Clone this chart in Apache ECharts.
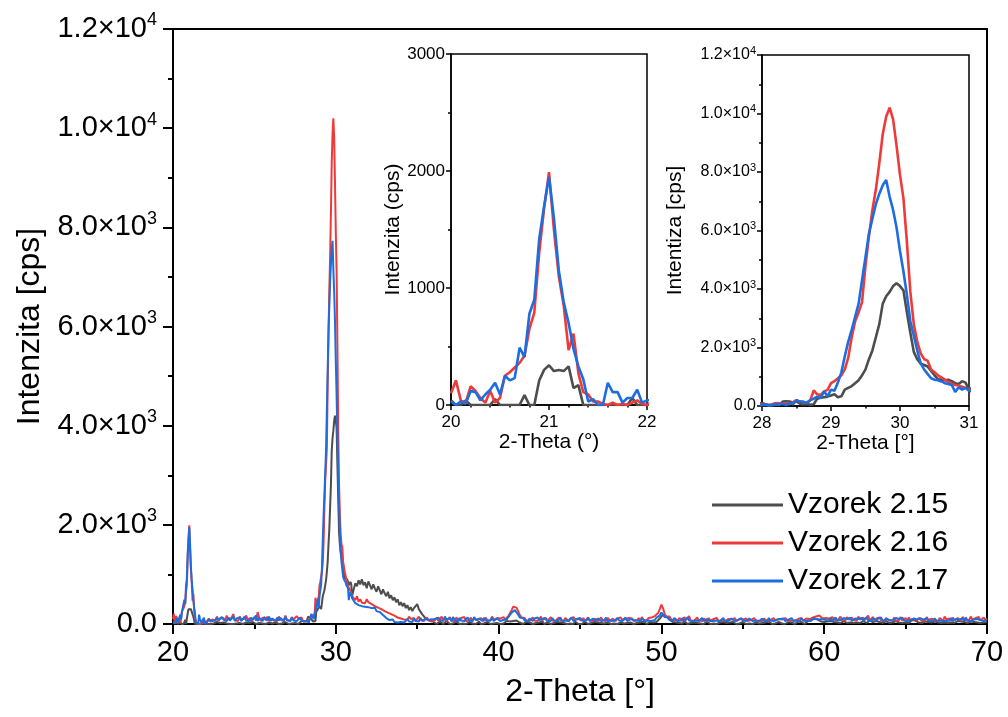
<!DOCTYPE html>
<html><head><meta charset="utf-8">
<script src="https://cdn.jsdelivr.net/npm/echarts@6/dist/echarts.min.js"></script>
<style>html,body{margin:0;padding:0;background:#fff}#c{width:1008px;height:717px}</style>
</head><body><div id="c"></div>
<script>
// ---------- data ----------
const seriesNames = ['Vzorek 2.15', 'Vzorek 2.16', 'Vzorek 2.17'];
const seriesColors = ['#4d4d4d', '#ef3a3a', '#1c6de0'];

// scan segments: start angle and step (2-Theta, deg)
const segStart = [20.0, 22.1, 28.0, 31.1, 36.1];
const segStep = [0.05, 0.1, 0.05, 0.1, 0.1];

// Vzorek 2.15 (gray)
const gray1 = [40,0,0,40,0,0,0,0,0,50, 0,0,0,0,0,85,0,0,210,300, 340,290,300,290,330,145,170,0,0,0, 0,0,0,0,0,0,0,60,0,0, 0];
const gray2 = [0,20,0,30,10,0,40,0,20,0, 30,0,10,40,0,20,0,30,10,0, 20,40,0,10,30,0,20,0,40,10, 0,30,20,0,10,40,0,20,30,0, 10,0,30,50,0,20,10,0,40,20, 0,30,10,0,20,40,0,30,60];
const gray3 = [100,60,30,20,50,40,150,160,150,120, 160,80,50,70,40,60,250,280,300,320, 360,400,300,330,560,620,680,780,880,1050, 1250,1600,1900,2350,2800,3500,3750,3900,4100,4200, 4100,3950,3200,2500,1850,1600,1450,1400,1350,1200, 1050,920,900,880,900,850,780,750,850,800, 560];
const gray4 = [700,820,760,880,800,900,780,840,720,860, 780,700,800,720,650,760,680,600,700,620, 560,650,520,580,480,540,440,500,380,440, 360,420,320,380,280,340,260,320,360,400, 300,250,200,180,120,150,80,60,90,40];
const gray5 = [
  30,0,20,50,10,0,40,60,20,0, 30,10,0,50,20,0,40,10,30,0, 20,40,0,10,30,0,20,50,0,30, 10,0,40,20,0,30,10,0,20,40,
  0,30,10,40,60,30,50,80,60,40, 70,50,30,10,0,20,40,0,30,10, 0,40,20,0,30,10,50,0,20,30, 10,0,30,20,0,40,10,30,0,20,
  40,0,20,10,30,0,50,20,0,30, 0,20,40,10,0,30,20,0,40,10, 30,0,20,40,10,0,30,50,0,20, 10,40,0,20,30,0,10,40,20,0,
  30,10,0,40,20,0,30,10,50,20, 0,30,40,10,30,60,40,80,110,150, 190,210,160,120,90,60,40,70,30,50, 20,40,10,60,30,0,40,20,10,30,
  0,20,40,10,30,0,20,50,10,0, 30,10,40,0,20,30,0,40,10,20, 0,30,10,40,20,0,30,10,0,40, 20,0,30,10,40,0,20,30,0,10,
  40,20,0,30,10,50,20,0,30,10, 0,40,20,10,30,0,20,40,10,30, 20,0,30,50,10,40,20,0,30,60, 40,80,70,110,130,90,60,50,30,40,
  20,50,30,60,20,40,70,30,50,20, 40,60,30,20,50,30,60,20,40,30, 50,20,40,60,30,20,50,70,30,40, 20,60,30,40,50,20,30,60,40,20,
  50,30,20,60,40,30,50,20,60,30, 40,20,50,80,110,70,40,30,60,20, 30,50,20,40,60,30,20,50,40,30, 50,20,40,30,60,20,50,30,40,20,
  30,60,20,50,30,40,60,20,30,50, 20,40,60,30,50,20,40,30,60,40];

// Vzorek 2.16 (red)
const red1 = [100,210,40,20,160,120,60,20,120,20, 60,250,280,320,360,420,650,790,1300,1680, 1990,1500,1100,850,470,610,270,110,90,30, 30,10,0,20,0,10,0,20,40,10, 0];
const red2 = [60,110,40,90,130,70,150,60,110,80, 120,60,170,90,60,130,200,80,120,60, 150,90,50,110,170,70,120,60,90,140, 70,240,110,60,130,90,80,150,60,110, 130,70,100,60,150,90,120,60,170,80, 110,60,140,90,70,160,110,80,130];
const red3 = [50,40,30,60,100,90,70,100,60,130, 200,150,130,120,200,530,400,380,500,550, 780,850,950,1050,1250,1650,2350,2900,3200,3550, 4800,5800,6700,7400,8300,9300,9900,10200,9800,8900, 7900,7100,5600,3900,2800,2200,1800,1600,1550,1250, 1150,1050,980,900,820,760,720,700,660,620, 560];
const red4 = [540,480,560,450,500,430,470,420,500,440, 480,400,430,360,400,330,360,300,330,260, 280,230,250,200,220,170,190,130,160,110, 140,90,120,80,150,100,70,120,60,100, 150,80,110,60,90,130,70,100,50,80];
const red5 = [
  80,130,60,100,150,70,120,60,90,140, 70,110,50,130,90,60,120,80,140,60, 100,70,130,60,110,150,80,60,120,90, 60,130,80,110,70,150,90,60,120,80,
  110,70,140,90,130,160,220,280,350,390, 330,260,180,130,90,120,70,110,60,100, 130,70,110,60,90,150,70,120,80,60, 100,140,70,110,60,90,130,70,100,60,
  120,80,60,110,70,140,90,60,100,80, 70,120,60,90,130,70,100,60,110,80, 60,100,130,70,90,60,120,80,60,110, 90,60,110,70,130,80,60,100,70,120,
  80,110,60,90,70,120,60,140,80,100, 70,120,90,130,110,160,150,220,300,390, 320,200,140,110,150,90,130,80,110,70, 120,90,60,140,80,110,160,70,100,60,
  90,130,70,100,60,110,80,60,120,70, 60,100,80,120,60,90,70,110,60,80, 100,60,90,70,120,60,80,100,60,90, 70,110,60,90,80,60,120,70,90,60,
  90,60,110,70,60,100,80,60,120,70, 60,100,70,90,60,120,80,60,100,70, 110,70,60,100,80,120,60,90,110,70, 100,80,130,120,150,190,170,140,110,90,
  120,80,110,70,140,90,130,70,100,150, 80,120,70,140,90,60,130,80,110,70, 150,90,60,130,80,110,170,70,100,140, 60,110,80,130,70,100,60,120,90,70,
  110,70,130,60,100,80,140,70,90,120, 70,130,80,60,110,90,70,120,80,60, 100,70,140,80,60,110,130,70,90,60, 120,80,60,150,90,70,110,60,130,80,
  70,120,90,60,140,100,70,110,80,150, 90,60,120,80,140,70,100,130,80,110];

// Vzorek 2.17 (blue)
const blue1 = [30,0,30,10,120,110,40,90,130,190, 90,250,210,230,490,410,780,900,1420,1700, 1950,1600,1150,880,700,480,330,220,30,50, 0,0,190,110,110,20,60,60,130,20, 40];
const blue2 = [40,90,120,60,100,70,130,80,60,140, 90,110,60,130,70,100,150,60,110,80, 130,60,90,150,70,110,60,130,80,100, 170,60,120,90,60,140,100,70,150,60, 110,80,60,130,70,120,90,60,140,80, 100,60,130,70,110,60,90,120,70];
const blue3 = [30,50,20,40,60,50,80,30,100,60, 200,150,150,100,200,250,320,280,500,330, 560,520,800,1150,1700,2200,2600,3050,3500,4300, 5100,5900,6400,6900,7250,7550,7730,7150,6700,6100, 5300,4600,3800,2900,2400,1900,1450,1250,1100,950, 900,880,840,780,750,720,480,640,560,620, 520];
const blue4 = [480,420,450,380,420,360,400,350,390,340, 380,320,300,330,260,300,240,260,180,200, 120,140,80,60,90,40,70,30,60,40, 80,30,60,100,50,80,40,110,60,90, 50,120,70,50,100,60,80,40,90,60];
const blue5 = [
  100,60,130,80,110,60,150,90,70,120, 60,140,80,100,60,120,70,110,60,90, 130,70,100,60,140,80,60,110,90,60, 120,80,60,100,70,130,60,90,110,70,
  60,100,80,120,90,140,180,230,270,280, 240,190,130,90,120,70,100,60,110,80, 60,110,70,130,80,60,100,70,120,60, 90,60,120,70,100,60,80,130,60,90,
  70,110,60,90,130,60,80,100,60,120, 80,60,100,70,120,60,90,110,60,80, 110,70,60,100,80,130,60,90,70,100, 60,90,120,70,100,60,80,130,60,90,
  100,60,80,120,70,90,60,110,70,60, 90,70,110,60,100,80,130,120,170,230, 200,140,100,130,80,110,70,120,90,60, 100,70,120,60,90,130,70,100,60,80,
  70,110,60,90,120,60,80,100,70,60, 100,60,90,70,110,60,80,120,60,90, 60,90,110,70,60,100,80,60,120,70, 90,60,80,110,70,60,100,70,90,60,
  70,110,60,90,60,120,70,80,60,100, 90,60,100,70,110,60,80,90,60,120, 60,100,70,90,60,110,80,60,100,70, 90,60,110,80,100,120,90,70,100,60,
  80,110,70,120,60,90,130,70,100,80, 60,120,80,100,70,130,60,90,110,70, 100,70,120,60,90,140,70,100,60,120, 80,60,110,70,130,60,90,100,60,80,
  110,70,60,120,80,100,60,130,70,90, 60,100,80,60,110,70,90,60,120,80, 90,60,120,70,100,60,80,110,60,90, 70,110,60,90,60,100,70,120,60,80,
  100,60,90,70,110,60,130,70,90,60, 60,90,70,100,60,80,110,60,70,90];

const graySegs = [gray1, gray2, gray3, gray4, gray5];
const redSegs = [red1, red2, red3, red4, red5];
const blueSegs = [blue1, blue2, blue3, blue4, blue5];

// ---------- build ----------
function pairs(segs) {
  const out = [];
  segs.forEach((arr, s) => {
    arr.forEach((v, i) => {
      out.push([+(segStart[s] + i * segStep[s]).toFixed(3), v]);
    });
  });
  return out;
}
const dataSets = [pairs(graySegs), pairs(redSegs), pairs(blueSegs)];

const FONT = 'Liberation Sans, Arial, sans-serif';
function sciLabel(v) {
  if (v === 0) return '{b|0.0}';
  const e = Math.floor(Math.log10(v) + 1e-9);
  const m = v / Math.pow(10, e);
  return '{b|' + m.toFixed(1) + '×10}{s|' + e + '}';
}
function plainLabel(v) { return String(v); }

function xAxisCfg(g, min, max, interval, minorSplit, fs, name, nfs, nameGap, tickLen, lw) {
  return {
    gridIndex: g, type: 'value', min: min, max: max, interval: interval,
    name: name, nameLocation: 'middle', nameGap: nameGap,
    nameTextStyle: {fontFamily: FONT, fontSize: nfs, color: '#000'},
    axisLine: {show: true, onZero: false, lineStyle: {color: '#000', width: lw}},
    axisTick: {show: true, inside: false, length: tickLen, lineStyle: {color: '#000', width: lw}},
    minorTick: {show: true, splitNumber: minorSplit, length: tickLen / 2, lineStyle: {color: '#000', width: lw}},
    splitLine: {show: false},
    axisLabel: {fontFamily: FONT, fontSize: fs, color: '#000', margin: tickLen + 4, formatter: plainLabel, hideOverlap: false, showMinLabel: true, showMaxLabel: true}
  };
}

const option = {
  animation: false,
  backgroundColor: '#fff',
  grid: [
    {left: 173, right: 21, top: 29, bottom: 93, show: true, borderColor: '#000', borderWidth: 2, backgroundColor: '#fff'},
    {left: 451, width: 196, top: 54, height: 351, show: true, borderColor: '#000', borderWidth: 1.5, backgroundColor: '#fff'},
    {left: 762, width: 207, top: 55, height: 351, show: true, borderColor: '#000', borderWidth: 1.5, backgroundColor: '#fff'}
  ],
  xAxis: [
    xAxisCfg(0, 20, 70, 10, 2, 29, '2-Theta [°]', 32, 52, 10, 2),
    xAxisCfg(1, 20, 22, 1, 5, 17, '2-Theta (°)', 21, 23, 5, 1.5),
    xAxisCfg(2, 28, 31, 1, 2, 17, '2-Theta [°]', 21, 23, 5, 1.5)
  ],
  yAxis: [
    {
      gridIndex: 0, type: 'value', min: 0, max: 12000, interval: 2000,
      name: 'Intenzita [cps]', nameLocation: 'middle', nameGap: 127,
      nameTextStyle: {fontFamily: FONT, fontSize: 32, color: '#000'},
      axisLine: {show: true, lineStyle: {color: '#000', width: 2}},
      axisTick: {show: true, length: 10, lineStyle: {color: '#000', width: 2}},
      minorTick: {show: true, splitNumber: 2, length: 5, lineStyle: {color: '#000', width: 2}},
      splitLine: {show: false},
      axisLabel: {
        margin: 16, formatter: sciLabel, color: '#000',
        rich: {b: {fontFamily: FONT, fontSize: 29, color: '#000', lineHeight: 35}, s: {fontFamily: FONT, fontSize: 18, color: '#000', verticalAlign: 'top', lineHeight: 18}}
      }
    },
    {
      gridIndex: 1, type: 'value', min: 0, max: 3000, interval: 1000,
      name: 'Intenzita (cps)', nameLocation: 'middle', nameGap: 45,
      nameTextStyle: {fontFamily: FONT, fontSize: 21, color: '#000'},
      axisLine: {show: true, lineStyle: {color: '#000', width: 1.5}},
      axisTick: {show: true, length: 5, lineStyle: {color: '#000', width: 1.5}},
      minorTick: {show: true, splitNumber: 2, length: 3, lineStyle: {color: '#000', width: 1.5}},
      splitLine: {show: false},
      axisLabel: {fontFamily: FONT, fontSize: 17, color: '#000', margin: 6, formatter: plainLabel}
    },
    {
      gridIndex: 2, type: 'value', min: 0, max: 12000, interval: 2000,
      name: 'Intentiza [cps]', nameLocation: 'middle', nameGap: 76,
      nameTextStyle: {fontFamily: FONT, fontSize: 21, color: '#000'},
      axisLine: {show: true, lineStyle: {color: '#000', width: 1.5}},
      axisTick: {show: true, length: 5, lineStyle: {color: '#000', width: 1.5}},
      minorTick: {show: true, splitNumber: 2, length: 3, lineStyle: {color: '#000', width: 1.5}},
      splitLine: {show: false},
      axisLabel: {
        margin: 6, formatter: sciLabel, color: '#000',
        rich: {b: {fontFamily: FONT, fontSize: 16, color: '#000', lineHeight: 20}, s: {fontFamily: FONT, fontSize: 11, color: '#000', verticalAlign: 'top', lineHeight: 11}}
      }
    }
  ],
  legend: {
    data: seriesNames, orient: 'vertical', left: 707, top: 485, itemGap: 8,
    icon: 'rect', itemWidth: 71, itemHeight: 3,
    textStyle: {fontFamily: FONT, fontSize: 30, color: '#000'}
  },
  series: []
};

[0, 1, 2].forEach(g => {
  dataSets.forEach((d, k) => {
    option.series.push({
      type: 'line', name: seriesNames[k], xAxisIndex: g, yAxisIndex: g,
      data: d, showSymbol: false, symbol: 'none', clip: true,
      lineStyle: {color: seriesColors[k], width: g === 0 ? 2 : 2.6},
      itemStyle: {color: seriesColors[k]}, z: 2 + k
    });
  });
});

const chart = echarts.init(document.getElementById('c'), null, {renderer: 'canvas'});
chart.setOption(option);
</script>
</body></html>
